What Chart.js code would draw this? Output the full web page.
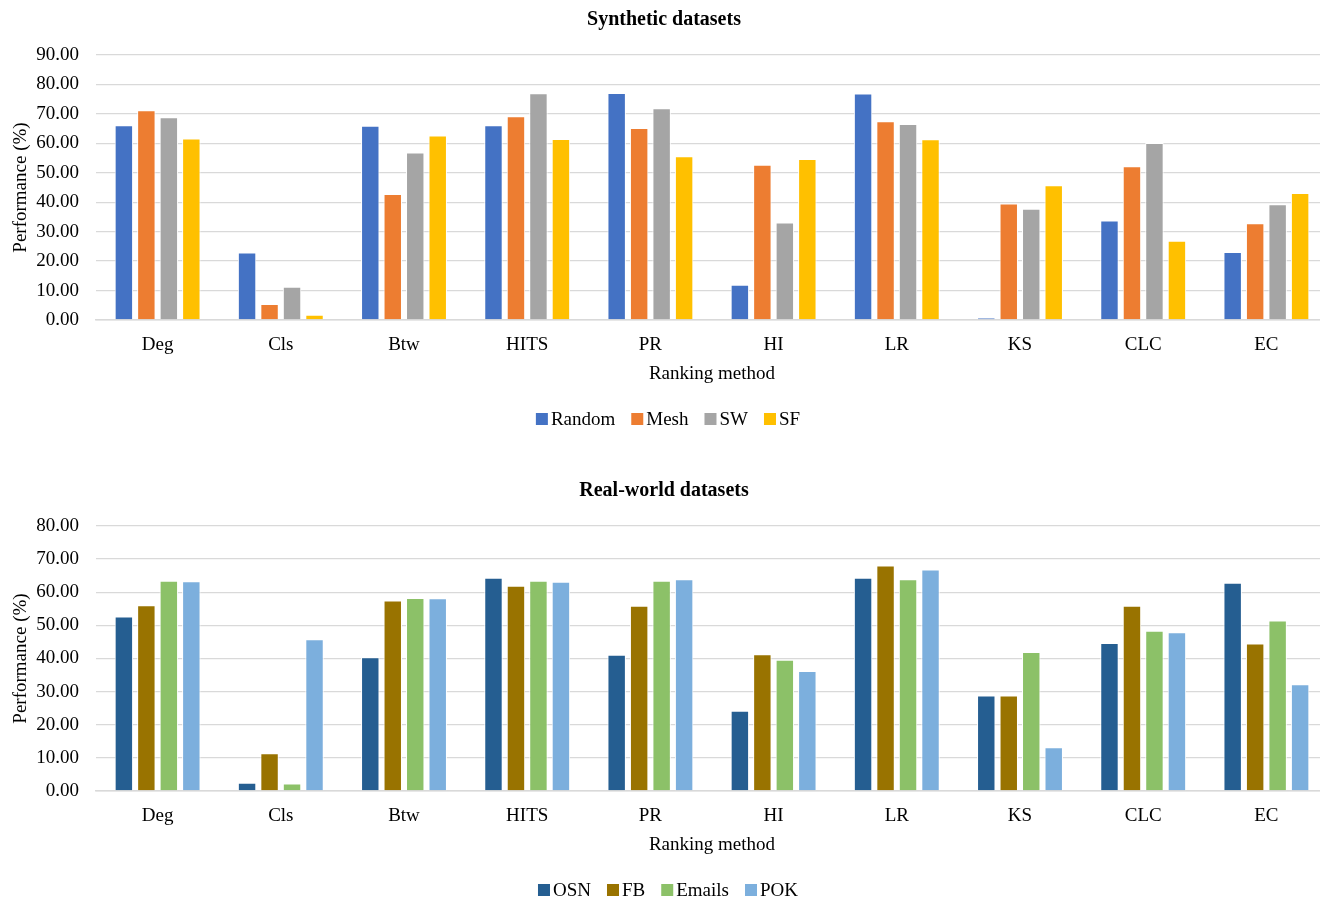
<!DOCTYPE html>
<html>
<head>
<meta charset="utf-8">
<script src="https://cdn.jsdelivr.net/npm/chart.js@4.4.1/dist/chart.umd.min.js"></script>
<style>
  html, body { margin: 0; padding: 0; background: #fff; overflow: hidden; }
  .box { position: absolute; left: 0; width: 1330px; height: 471px; }
  #top { top: 0; }
  #bottom { top: 471px; }
</style>
</head>
<body>
<div class="box" id="top"><canvas id="synthetic"></canvas></div>
<div class="box" id="bottom"><canvas id="realworld"></canvas></div>
<script>
// Ranking methods (x-axis categories)
const methods = ['Deg', 'Cls', 'Btw', 'HITS', 'PR', 'HI', 'LR', 'KS', 'CLC', 'EC'];

// Synthetic networks, performance (%)
const synthSeries = ['Random', 'Mesh', 'SW', 'SF'];
const randomVals = [66.1, 22.9, 66.0, 66.1, 77.1, 12.0, 76.9, 0.8, 33.8, 23.1];
const meshVals   = [71.2, 5.4, 42.8, 69.2, 65.2, 52.7, 67.5, 39.6, 52.2, 32.9];
const swVals     = [68.9, 11.3, 56.9, 77.0, 71.9, 33.1, 66.6, 37.8, 60.1, 39.3];
const sfVals     = [61.6, 1.8, 62.7, 61.5, 55.6, 54.7, 61.4, 45.8, 26.9, 43.1];

// Real-world networks, performance (%)
const realSeries = ['OSN', 'FB', 'Emails', 'POK'];
const osnVals    = [52.7, 2.5, 40.4, 64.4, 41.1, 24.2, 64.4, 28.8, 44.7, 62.9];
const fbVals     = [56.1, 11.4, 57.5, 62.0, 55.9, 41.3, 68.1, 28.8, 55.9, 44.5];
const emailsVals = [63.5, 2.3, 58.3, 63.5, 63.5, 39.6, 63.9, 42.0, 48.4, 51.5];
const pokVals    = [63.3, 45.8, 58.2, 63.2, 63.9, 36.2, 66.9, 13.2, 47.9, 32.2];

// y-axis ranges
const synthMax = 90;
const realMax = 80;
const yStep = 10;

const synthColors = ['#4472C4', '#ED7D31', '#A5A5A5', '#FFC000'];
const realColors  = ['#255E91', '#997300', '#8CC168', '#7CAFDD'];

const FONT = "'Liberation Serif', 'Times New Roman', serif";
const GRID = '#D9D9D9';

// Compact legend row under the axis title: small square swatch, tight gap before the label
const compactLegend = {
  id: 'compactLegend',
  afterDraw(chart, args, opts) {
    const ctx = chart.ctx;
    const items = chart.data.datasets.map(ds => ({ text: ds.label, color: ds.backgroundColor }));
    ctx.save();
    ctx.font = `19px ${FONT}`;
    const box = 12, gap = 3, spacing = 16;
    const widths = items.map(it => box + gap + ctx.measureText(it.text).width);
    const total = widths.reduce((a, b) => a + b, 0) + spacing * (items.length - 1);
    let x = chart.width / 2 - total / 2 + opts.shiftX;
    const y = opts.y;
    ctx.textBaseline = 'middle';
    ctx.textAlign = 'left';
    items.forEach((it, i) => {
      ctx.fillStyle = it.color;
      ctx.fillRect(x, y - box / 2, box, box);
      ctx.fillStyle = '#000';
      ctx.fillText(it.text, x + box + gap, y + 1);
      x += widths[i] + spacing;
    });
    ctx.restore();
  }
};

function buildChart(canvasId, titleText, names, values, colors, yMax) {
  const datasets = names.map((name, i) => ({
    label: name,
    data: values[i],
    backgroundColor: colors[i],
    borderColor: '#FFFFFF',
    borderWidth: 1,
    borderSkipped: 'bottom',
    categoryPercentage: 0.73,
    barPercentage: 0.82
  }));

  return new Chart(document.getElementById(canvasId), {
    type: 'bar',
    data: { labels: methods, datasets },
    plugins: [compactLegend],
    options: {
      responsive: true,
      maintainAspectRatio: false,
      animation: false,
      layout: { padding: { left: 0, right: 2, top: 0, bottom: 86 } },
      plugins: {
        title: {
          display: true,
          text: titleText,
          color: '#000',
          font: { family: FONT, size: 20, weight: 'bold' },
          padding: { top: 8, bottom: 23 }
        },
        legend: { display: false },
        compactLegend: { y: 419, shiftX: 3 },
        tooltip: { enabled: false }
      },
      scales: {
        x: {
          afterFit: (scale) => { scale.height = 65; },
          grid: { display: false, drawTicks: false },
          border: { display: true, color: GRID, width: 1.5 },
          ticks: { color: '#000', font: { family: FONT, size: 19 }, padding: 14, maxRotation: 0 },
          title: {
            display: true,
            text: 'Ranking method',
            color: '#000',
            font: { family: FONT, size: 19 },
            padding: { top: 0, bottom: 0 }
          }
        },
        y: {
          min: 0,
          max: yMax,
          afterFit: (scale) => { scale.width = 96; },
          grid: { color: GRID, lineWidth: 1.3, drawTicks: false },
          border: { display: false },
          ticks: {
            stepSize: yStep,
            color: '#000',
            font: { family: FONT, size: 19 },
            padding: 17,
            callback: (v) => Number(v).toFixed(2)
          },
          title: {
            display: true,
            text: 'Performance (%)',
            color: '#000',
            font: { family: FONT, size: 19 },
            padding: { top: 10, bottom: 0 }
          }
        }
      }
    }
  });
}

buildChart('synthetic', 'Synthetic datasets', synthSeries,
  [randomVals, meshVals, swVals, sfVals], synthColors, synthMax);
buildChart('realworld', 'Real-world datasets', realSeries,
  [osnVals, fbVals, emailsVals, pokVals], realColors, realMax);
</script>
</body>
</html>
